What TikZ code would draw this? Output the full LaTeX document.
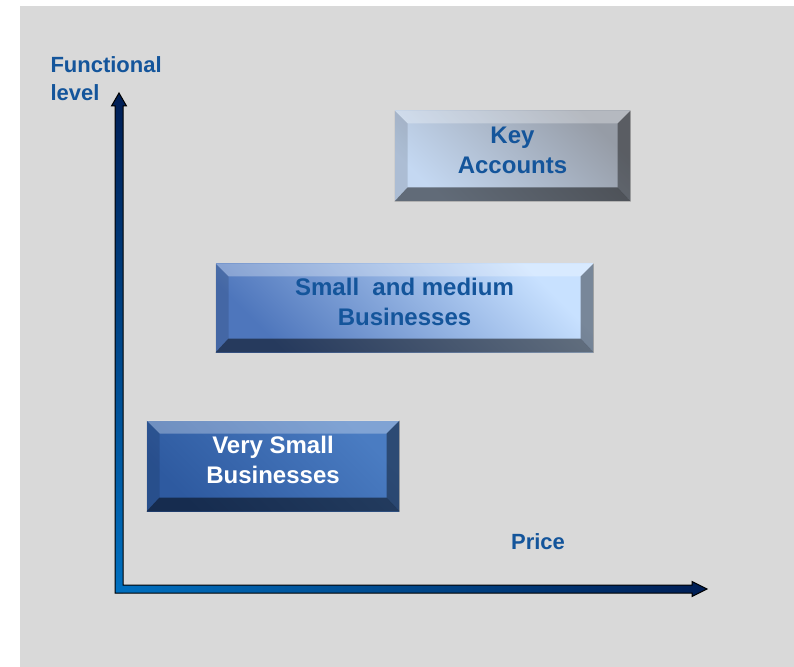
\documentclass[tikz,border=0pt]{standalone}
\usepackage{fontspec}
\setmainfont{Liberation Sans}
\usetikzlibrary{calc}

\definecolor{labelblue}{RGB}{20,85,155}
\definecolor{axisnavy}{RGB}{0,30,85}
\definecolor{axisblue}{RGB}{0,112,192}
\definecolor{panelgray}{RGB}{217,217,217}

\tikzset{every picture/.style={line width=0.75pt}}
\tikzset{
  segbox/.style={rectangle, inner sep=0pt, align=center, text=labelblue, text depth=9pt,
    font=\fontsize{18}{22.5}\selectfont\bfseries},
  axislabel/.style={inner sep=0pt, align=left, text=labelblue,
    font=\fontsize{16.5}{21}\selectfont\bfseries}
}

% bevelled frame round a segment box
\newcommand{\bevelframe}[1]{%
  \fill[white, fill opacity=0.3] (#1.north west) -- (#1.north east) -- ($(#1.north east)+(-13,13)$) -- ($(#1.north west)+(13,13)$) -- cycle;
  \fill[black, fill opacity=0.12] (#1.north west) -- ($(#1.north west)+(13,13)$) -- ($(#1.south west)+(13,-14)$) -- (#1.south west) -- cycle;
  \fill[black, fill opacity=0.4] (#1.north east) -- ($(#1.north east)+(-13,13)$) -- ($(#1.south east)+(-13,-14)$) -- (#1.south east) -- cycle;
  \fill[black, fill opacity=0.5] (#1.south west) -- ($(#1.south west)+(13,-14)$) -- ($(#1.south east)+(-13,-14)$) -- (#1.south east) -- cycle;
}

\begin{document}
\begin{tikzpicture}[x=0.75pt,y=0.75pt,yscale=-1,xscale=1]
\useasboundingbox (0,0) rectangle (794,667);

%Shape: Background
\fill[panelgray] (20,6) rectangle (794,667);

%Axis: vertical part
\shade[top color=axisnavy, bottom color=axisblue] (115,593) -- (115,106) -- (111.5,106) -- (119,93) -- (126.5,106) -- (123,106) -- (123,593) -- cycle;
%Axis: horizontal part
\shade[left color=axisblue, right color=axisnavy] (115,585) -- (692,585) -- (692,581.5) -- (707,589) -- (692,596.5) -- (692,593) -- (115,593) -- cycle;
%Axis: outline
\draw[black] (115,593) -- (115,106) -- (111.5,106) -- (119,93) -- (126.5,106) -- (123,106) -- (123,585) -- (692,585) -- (692,581.5) -- (707,589) -- (692,596.5) -- (692,593) -- cycle;

% Segment boxes
\node[segbox, minimum width=176.25pt, minimum height=67.5pt,
  top color={rgb,255:red,150;green,156;blue,166}, bottom color={rgb,255:red,196;green,216;blue,242}, shading angle=-45]
  (key) at (512.5,156) {Key\\Accounts};
\bevelframe{key}

\node[segbox, minimum width=282.75pt, minimum height=66pt,
  top color={rgb,255:red,200;green,225;blue,255}, bottom color={rgb,255:red,78;green,118;blue,188}, shading angle=-45]
  (smb) at (404.5,308) {Small\ \ and medium\\Businesses};
\bevelframe{smb}

\node[segbox, text=white, minimum width=189pt, minimum height=67.5pt,
  top color={rgb,255:red,74;green,124;blue,194}, bottom color={rgb,255:red,46;green,90;blue,160}, shading angle=-45]
  (vsb) at (273,466) {Very Small\\Businesses};
\bevelframe{vsb}

% Axis labels
\node[axislabel, anchor=north west] (ylabel) at (50,56) {Functional\\level};
\node[axislabel, anchor=base] (xlabel) at (538,549) {Price};

\end{tikzpicture}
\end{document}
